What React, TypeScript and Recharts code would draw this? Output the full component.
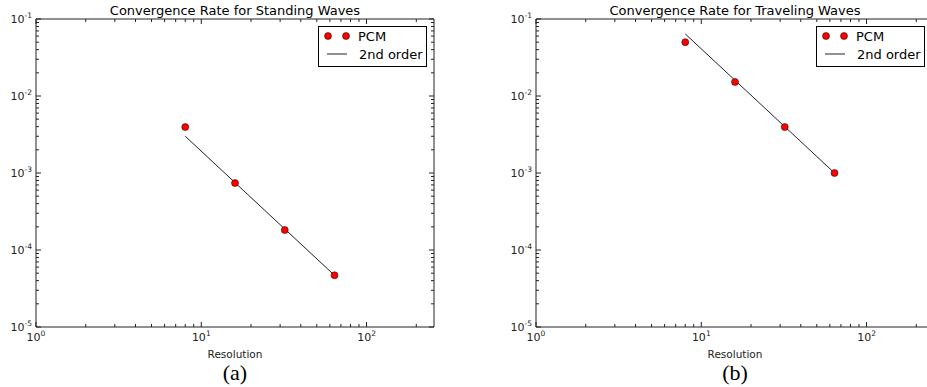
import { ComposedChart, Scatter, Line, XAxis, YAxis, ReferenceArea } from 'recharts';

// grid resolutions used in both convergence studies
const resolution = [8, 16, 32, 64];

// L2 error of the PCM scheme, standing waves
const standingPcm = [3.95e-3, 7.4e-4, 1.82e-4, 4.7e-5];
// 2nd order reference slope, standing waves
const standingFit = [3.0e-3, 7.5e-4, 1.875e-4, 4.69e-5];

// L2 error of the PCM scheme, traveling waves
const travelingPcm = [5.0e-2, 1.52e-2, 3.95e-3, 1.0e-3];
// 2nd order reference slope, traveling waves
const travelingFit = [6.4e-2, 1.6e-2, 4.0e-3, 1.0e-3];

// log axes: decades and the minor multipliers between them
const xMajor = [1, 10, 100];
const yMajor = [1e-5, 1e-4, 1e-3, 1e-2, 1e-1];
const minorSteps = [2, 3, 4, 5, 6, 7, 8, 9];
const X_DOMAIN: [number, number] = [1, 256];
const Y_DOMAIN: [number, number] = [1e-5, 1e-1];

const xTicks = [...xMajor, ...xMajor.flatMap((d) => minorSteps.map((m) => d * m))].filter(
  (v) => v >= X_DOMAIN[0] && v <= X_DOMAIN[1]
);
const yTicks = [...yMajor, ...yMajor.slice(0, -1).flatMap((d) => minorSteps.map((m) => d * m))];

const FONT = '"DejaVu Sans", sans-serif';
const CHART_W = 460;
const CHART_H = 387;
const MARGIN = { top: 19, right: 26, left: 0, bottom: 20 };
const Y_AXIS_W = 36;
const X_AXIS_H = 40;
const PLOT_W = CHART_W - MARGIN.right - Y_AXIS_W;
const PLOT_H = CHART_H - MARGIN.top - MARGIN.bottom - X_AXIS_H;

const isMajor = (v: number, majors: number[]) => majors.some((m) => Math.abs(v / m - 1) < 1e-9);

function Pow10({ x, y, value, anchor }: { x: number; y: number; value: number; anchor: string }) {
  const exp = Math.round(Math.log10(value));
  return (
    <text x={x} y={y} textAnchor={anchor} fontSize={11} fontFamily={FONT} fill="#222">
      10
      <tspan dy={-5} fontSize={7.5}>
        {exp < 0 ? `-${-exp}` : `${exp}`}
      </tspan>
    </text>
  );
}

function XTick({ x, y, payload }: any) {
  const v = payload.value;
  const major = isMajor(v, xMajor);
  const len = major ? 5 : 3;
  return (
    <g>
      <line x1={x} x2={x} y1={y} y2={y - len} stroke="#222" />
      <line x1={x} x2={x} y1={y - PLOT_H} y2={y - PLOT_H + len} stroke="#222" />
      {major && <Pow10 x={x} y={y + 14} value={v} anchor="middle" />}
    </g>
  );
}

function YTick({ x, y, payload }: any) {
  const v = payload.value;
  const major = isMajor(v, yMajor);
  const len = major ? 5 : 3;
  return (
    <g>
      <line x1={x} x2={x + len} y1={y} y2={y} stroke="#222" />
      <line x1={x + PLOT_W} x2={x + PLOT_W - len} y1={y} y2={y} stroke="#222" />
      {major && <Pow10 x={x - 4} y={y + 4} value={v} anchor="end" />}
    </g>
  );
}

const Dot = (p: any) => <circle cx={p.cx} cy={p.cy} r={3.5} fill="#f00" stroke="#000" strokeWidth={0.5} />;

interface PanelProps {
  left: number;
  title: string;
  caption: string;
  pcm: number[];
  fit: number[];
  legendLeft: number;
}

function Panel({ left, title, caption, pcm, fit, legendLeft }: PanelProps) {
  const rows = resolution.map((res, i) => ({ res, pcm: pcm[i], fit: fit[i] }));
  const cx = Y_AXIS_W + PLOT_W / 2;
  return (
    <div style={{ position: 'absolute', left, top: 0, width: CHART_W, height: CHART_H }}>
      <ComposedChart width={CHART_W} height={CHART_H} data={rows} margin={MARGIN}>
        <XAxis
          dataKey="res"
          type="number"
          scale="log"
          domain={X_DOMAIN}
          allowDataOverflow
          ticks={xTicks}
          interval={0}
          tick={<XTick />}
          tickLine={false}
          axisLine={false}
          tickSize={0}
          tickMargin={0}
          height={X_AXIS_H}
        />
        <YAxis
          type="number"
          scale="log"
          domain={Y_DOMAIN}
          allowDataOverflow
          ticks={yTicks}
          interval={0}
          tick={<YTick />}
          tickLine={false}
          axisLine={false}
          tickSize={0}
          tickMargin={0}
          width={Y_AXIS_W}
        />
        <ReferenceArea
          x1={X_DOMAIN[0]}
          x2={X_DOMAIN[1]}
          y1={Y_DOMAIN[0]}
          y2={Y_DOMAIN[1]}
          fill="none"
          stroke="#222"
          strokeWidth={1}
          fillOpacity={0}
        />
        <Scatter dataKey="pcm" shape={Dot} isAnimationActive={false} />
        <Line dataKey="fit" type="linear" stroke="#222" strokeWidth={1} dot={false} isAnimationActive={false} />
      </ComposedChart>
      <svg
        width={CHART_W}
        height={CHART_H}
        style={{ position: 'absolute', left: 0, top: 0, pointerEvents: 'none' }}
        fontFamily={FONT}
      >
        <text x={cx} y={15} textAnchor="middle" fontSize={13} fill="#000">
          {title}
        </text>
        <text x={cx} y={358} textAnchor="middle" fontSize={10.5} fill="#222">
          Resolution
        </text>
        <text x={cx} y={380} textAnchor="middle" fontSize={22} fontFamily='"Liberation Serif", serif' fill="#000">
          {caption}
        </text>
        <g transform={`translate(${legendLeft},26)`}>
          <rect x={0.5} y={0.5} width={108} height={40} fill="#fff" stroke="#000" />
          <circle cx={10} cy={10} r={3.5} fill="#f00" stroke="#000" strokeWidth={0.5} />
          <circle cx={28} cy={10} r={3.5} fill="#f00" stroke="#000" strokeWidth={0.5} />
          <text x={40} y={15} fontSize={13} fill="#000">
            PCM
          </text>
          <line x1={9} x2={29} y1={28} y2={28} stroke="#222" />
          <text x={41} y={33} fontSize={13} fill="#000">
            2nd order
          </text>
        </g>
      </svg>
    </div>
  );
}

export default function App() {
  return (
    <div
      style={{
        position: 'fixed',
        left: 0,
        top: 0,
        width: 927,
        height: 387,
        overflow: 'hidden',
        background: '#fff',
      }}
    >
      <Panel
        left={0}
        title="Convergence Rate for Standing Waves"
        caption="(a)"
        pcm={standingPcm}
        fit={standingFit}
        legendLeft={318}
      />
      <Panel
        left={500}
        title="Convergence Rate for Traveling Waves"
        caption="(b)"
        pcm={travelingPcm}
        fit={travelingFit}
        legendLeft={316}
      />
    </div>
  );
}
